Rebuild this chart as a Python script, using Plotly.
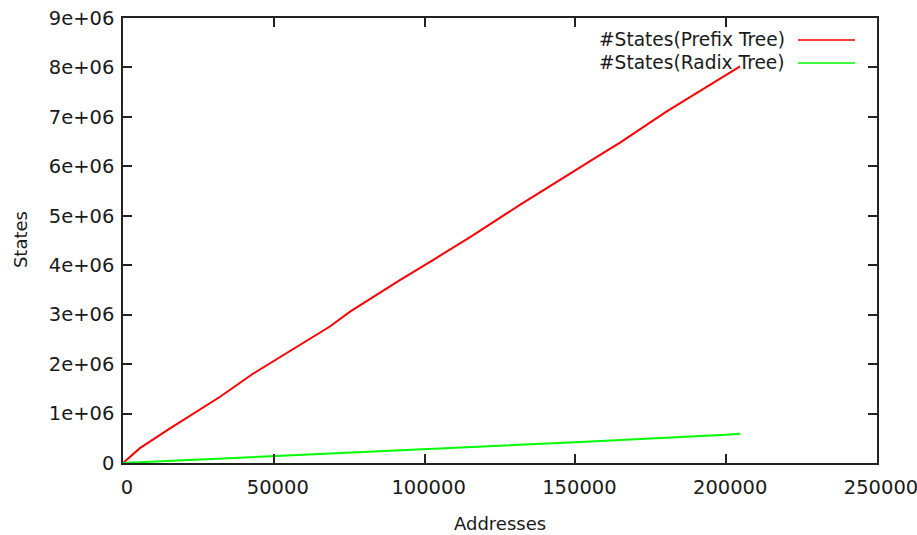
import plotly.graph_objects as go

# Number of addresses inserted
prefix_x = [0, 5600, 15600, 32200, 43200, 55400, 68600, 75300, 91800,
            102900, 115100, 131600, 148200, 158200, 164800, 180300, 204600]
# States in the prefix tree
prefix_y = [0, 0.30e6, 0.70e6, 1.34e6, 1.81e6, 2.27e6, 2.76e6, 3.06e6, 3.70e6,
            4.11e6, 4.57e6, 5.22e6, 5.86e6, 6.23e6, 6.48e6, 7.11e6, 8.02e6]

radix_x = [0, 58700, 100000, 150000, 200000, 204600]
radix_y = [0, 0.16e6, 0.28e6, 0.42e6, 0.57e6, 0.59e6]

x_ticks = [0, 50000, 100000, 150000, 200000, 250000]
x_labels = ["0", "50000", "100000", "150000", "200000", "250000"]
y_ticks = [0, 1e6, 2e6, 3e6, 4e6, 5e6, 6e6, 7e6, 8e6, 9e6]
y_labels = ["0", "1e+06", "2e+06", "3e+06", "4e+06", "5e+06", "6e+06", "7e+06", "8e+06", "9e+06"]

series_names = ["#States(Prefix Tree)", "#States(Radix Tree)"]
series_colors = ["#ff0000", "#00ff00"]

FONT = dict(family="DejaVu Sans", size=18, color="#1a1a1a")
TICK_FONT = dict(family="DejaVu Sans", size=19.5, color="#1a1a1a")
KEY_FONT = dict(family="DejaVu Sans", size=18.6, color="#1a1a1a")

fig = go.Figure()
fig.add_trace(go.Scatter(x=prefix_x, y=prefix_y, mode="lines", name=series_names[0],
                         line=dict(color=series_colors[0], width=2)))
fig.add_trace(go.Scatter(x=radix_x, y=radix_y, mode="lines", name=series_names[1],
                         line=dict(color=series_colors[1], width=2)))

axis_common = dict(showgrid=False, zeroline=False, showline=True, linecolor="#222",
                   linewidth=1.5, ticks="inside", ticklen=9, tickwidth=1.5,
                   tickcolor="#222", mirror="allticks", tickfont=TICK_FONT,
                   automargin=False)

fig.update_xaxes(range=[0, 250000], tickvals=x_ticks, ticktext=x_labels,
                 ticklabelstandoff=6, ticklabelshift=4, ticklabeloverflow="allow",
                 **axis_common)
fig.update_yaxes(range=[0, 9e6], tickvals=y_ticks, ticktext=y_labels,
                 ticklabelstandoff=3, **axis_common)

# gnuplot-style key: text right-aligned, sample line to its right
annotations = [
    dict(text="Addresses", x=0.5, y=-0.137, xref="paper", yref="paper",
         xanchor="center", yanchor="middle", showarrow=False, font=FONT),
    dict(text="States", x=-0.1366, y=0.501, xref="paper", yref="paper",
         xanchor="center", yanchor="middle", showarrow=False, font=FONT, textangle=-90),
]
shapes = []
key_rows = [0.9506, 0.8989]
for name, color, ky in zip(series_names, series_colors, key_rows):
    annotations.append(dict(text=name, x=0.8806, y=ky, xref="paper", yref="paper",
                            xanchor="right", yanchor="middle", showarrow=False, font=KEY_FONT))
    shapes.append(dict(type="line", xref="paper", yref="paper", x0=0.8952, x1=0.9708,
                       y0=ky, y1=ky, line=dict(color=color, width=1.5)))

fig.update_layout(width=917, height=535, showlegend=False,
                  margin=dict(l=123, r=40, t=18, b=72, autoexpand=False),
                  paper_bgcolor="white", plot_bgcolor="white",
                  annotations=annotations, shapes=shapes)

fig.write_html("out.html")
